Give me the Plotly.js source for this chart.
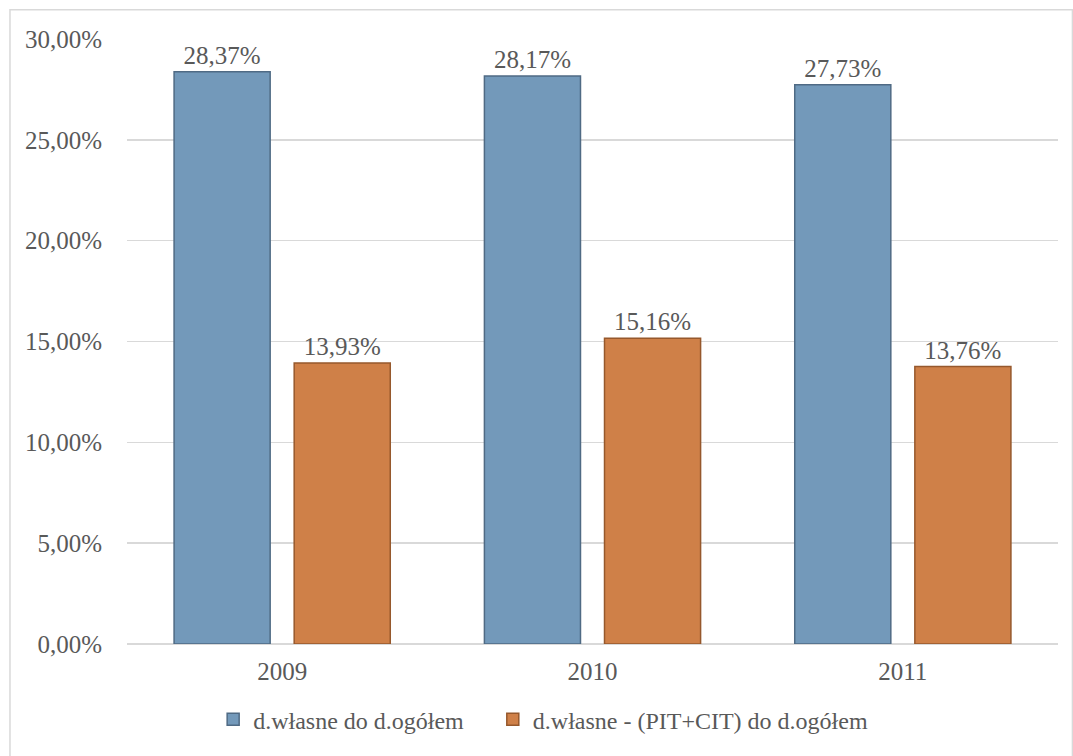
<!DOCTYPE html>
<html>
<head>
<meta charset="utf-8">
<script src="https://cdn.plot.ly/plotly-3.0.1.min.js"></script>
<style>
  html, body { margin: 0; padding: 0; background: #ffffff; }
  #chart { width: 1073px; height: 756px; }
</style>
</head>
<body>
<div id="chart"></div>
<script>
const years = ["2009", "2010", "2011"];
const seriesNames = ["d.własne do d.ogółem", "d.własne - (PIT+CIT) do d.ogółem"];
const ownToTotal = [0.2837, 0.2817, 0.2773];
const ownMinusPitCitToTotal = [0.1393, 0.1516, 0.1376];
const yTickValues = [0, 0.05, 0.10, 0.15, 0.20, 0.25, 0.30];

const fontFamily = "Liberation Serif, DejaVu Serif, serif";
const textColor = "#595959";
const pad = "\u00a0\u00a0\u00a0\u00a0";

const traces = [
  {
    type: "bar",
    name: seriesNames[0] + pad,
    x: years,
    y: ownToTotal,
    marker: { color: "#7399ba", line: { color: "#4f6a84", width: 1.5 } },
    texttemplate: "%{y:.2%}",
    textposition: "outside",
    cliponaxis: false,
    textfont: { family: fontFamily, size: 25, color: textColor },
    hoverinfo: "skip"
  },
  {
    type: "bar",
    name: seriesNames[1],
    x: years,
    y: ownMinusPitCitToTotal,
    marker: { color: "#cf8048", line: { color: "#96582c", width: 1.5 } },
    texttemplate: "%{y:.2%}",
    textposition: "outside",
    cliponaxis: false,
    textfont: { family: fontFamily, size: 25, color: textColor },
    hoverinfo: "skip"
  }
];

const layout = {
  width: 1073,
  height: 756,
  margin: { l: 127, r: 15, t: 39, b: 112 },
  paper_bgcolor: "#ffffff",
  plot_bgcolor: "#ffffff",
  separators: ", ",
  barmode: "group",
  bargap: 0.226,
  bargroupgap: 0.2,
  font: { family: fontFamily, size: 22, color: textColor },
  xaxis: {
    type: "category",
    showgrid: false,
    showline: false,
    zeroline: false,
    ticks: "",
    ticklabelstandoff: 10,
    tickfont: { family: fontFamily, size: 25, color: textColor }
  },
  yaxis: {
    range: [0, 0.30],
    tickvals: yTickValues,
    tickformat: ".2%",
    showgrid: true,
    gridcolor: "#d9d9d9",
    gridwidth: 1.5,
    zeroline: true,
    zerolinecolor: "#d9d9d9",
    zerolinewidth: 1.5,
    showline: false,
    ticks: "",
    ticklabelstandoff: 24,
    tickfont: { family: fontFamily, size: 25, color: textColor }
  },
  showlegend: true,
  legend: {
    orientation: "h",
    x: 0.447,
    xanchor: "center",
    y: -0.125,
    yanchor: "middle",
    font: { family: fontFamily, size: 24, color: textColor },
    itemwidth: 30,
    traceorder: "normal"
  },
  shapes: [
    {
      type: "rect",
      xref: "paper",
      yref: "paper",
      x0: -0.1257,
      x1: 1.0155,
      y0: -0.19,
      y1: 1.0485,
      line: { color: "#d9d9d9", width: 1.5 },
      fillcolor: "rgba(0,0,0,0)",
      layer: "below"
    }
  ]
};

Plotly.newPlot("chart", traces, layout, { displayModeBar: false, staticPlot: true });
</script>
</body>
</html>
